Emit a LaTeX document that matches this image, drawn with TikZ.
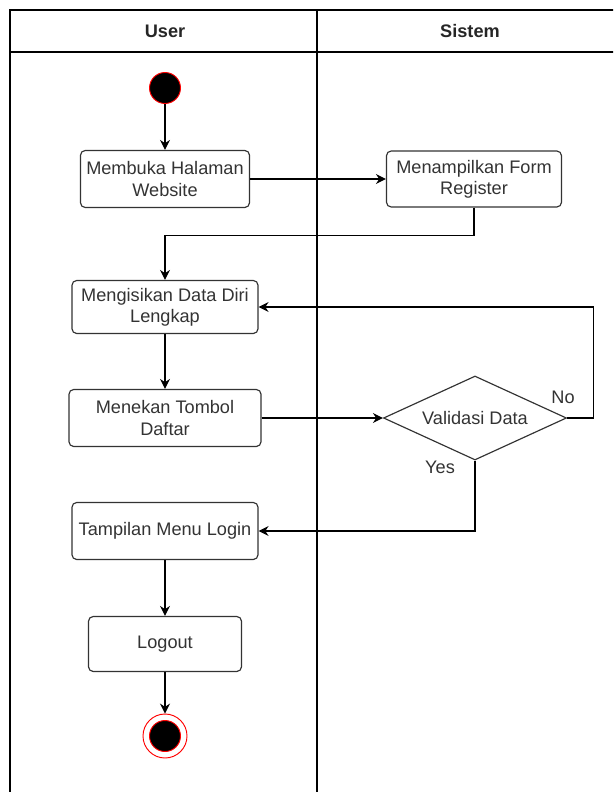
\documentclass[tikz,border=0pt]{standalone}
\usepackage{fontspec}
\setmainfont{Liberation Sans}
\usetikzlibrary{arrows.meta,shapes.geometric}

\begin{document}
\begin{tikzpicture}[x=0.03cm,y=-0.03cm,
  font=\fontsize{15.5}{18}\selectfont,
  act/.style={draw=black!80,line width=1pt,rounded corners=4pt,align=center,text=black!80,inner sep=0pt},
  arr/.style={-{Stealth[length=3mm,width=3mm,inset=1mm]},line width=1pt},
  lbl/.style={text=black!80}]
\useasboundingbox (0,0) rectangle (613,792);
\clip (0,0) rectangle (613,792);
% swimlanes
\draw[line width=1.1pt] (10,10) rectangle (640,820);
\draw[line width=1.1pt] (10,52) -- (640,52);
\draw[line width=1.1pt] (317,10) -- (317,820);
\node[font=\fontsize{15.5}{18}\selectfont\bfseries,text=black!85] (laneuser) at (165,31) {User};
\node[font=\fontsize{15.5}{18}\selectfont\bfseries,text=black!85] (lanesistem) at (470,31) {Sistem};
% activities
\node[circle,fill=black,draw=red,line width=0.8pt,minimum size=0.93cm,inner sep=0pt] (start) at (165,88) {};
\node[act,minimum width=5.07cm,minimum height=1.71cm] (web) at (165,179) {Membuka Halaman\\Website};
\node[act,minimum width=5.25cm,minimum height=1.68cm] (form) at (474,179) {Menampilkan Form\\Register};
\node[act,minimum width=5.58cm,minimum height=1.59cm] (isi) at (165,307) {Mengisikan Data Diri\\Lengkap};
\node[act,minimum width=5.76cm,minimum height=1.71cm] (daftar) at (165,418) {Menekan Tombol\\Daftar};
\node[diamond,aspect=2.2,draw=black!80,line width=1pt,text=black!80,inner sep=0pt,minimum width=5.49cm,minimum height=2.52cm] (valid) at (475,418) {Validasi Data};
\node[act,minimum width=5.58cm,minimum height=1.71cm] (login) at (165,531) {Tampilan Menu Login};
\node[act,minimum width=4.59cm,minimum height=1.65cm] (logout) at (165,644) {Logout};
\node[circle,draw=red,fill=white,line width=0.8pt,minimum size=1.32cm,inner sep=0pt] (stop) at (165,736) {};
\node[circle,fill=black,draw=red,line width=0.8pt,minimum size=0.93cm,inner sep=0pt] (stopdot) at (stop) {};
% flows
\draw[arr] (start) -- (web);
\draw[arr] (web) -- (form);
\draw[arr] (form.south) -- ++(0,28) -| (isi);
\draw[arr] (isi) -- (daftar);
\draw[arr] (daftar) -- (valid);
\draw[arr] (valid.east) -- ++(26,0) |- (isi.east);
\node[lbl] (no) at (563,397) {No};
\draw[arr] (valid.south) |- (login.east);
\node[lbl] (yes) at (440,467) {Yes};
\draw[arr] (login) -- (logout);
\draw[arr] (logout) -- (stop);
\end{tikzpicture}
\end{document}
